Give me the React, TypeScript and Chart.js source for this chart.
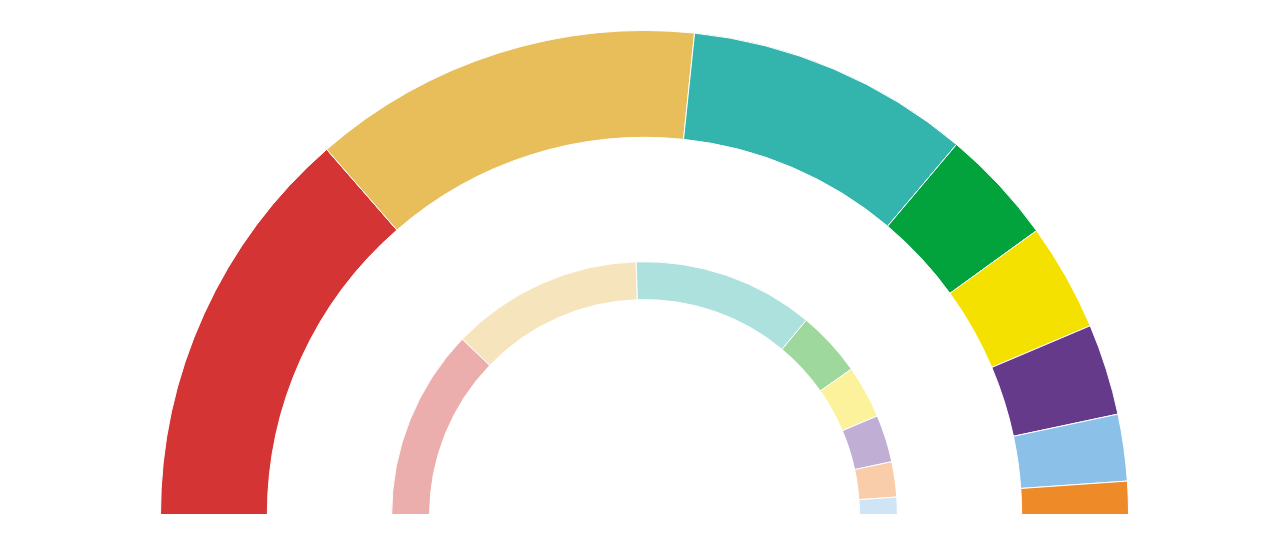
import React, { useEffect, useRef } from "react";
import { Chart, registerables } from "chart.js";

Chart.register(...registerables);

const partyLabels = ["A", "B", "C", "D", "E", "F", "G", "H"];
const outerValues = [27.2, 26.1, 19.0, 7.75, 7.2, 6.1, 4.45, 2.2];
const outerColors = ["#d43434", "#e8be5a", "#33b4ad", "#02a23d", "#f5e100", "#663a8b", "#8bc0e9", "#ef8a29"];
const innerValues = [24.4, 24.55, 23.15, 8.4, 6.75, 6.05, 4.5, 2.2];
const innerColors = ["#ecaeac", "#f6e4bd", "#ade1dd", "#9ed89c", "#fbf29b", "#c1aed4", "#f9cdaa", "#cfe5f6"];

export default function App() {
  const ref = useRef<HTMLCanvasElement | null>(null);
  useEffect(() => {
    if (!ref.current) return;
    const chart = new Chart(ref.current, {
      type: "doughnut",
      data: {
        labels: partyLabels,
        datasets: [
          {
            data: outerValues,
            backgroundColor: outerColors,
            borderColor: "#ffffff",
            borderWidth: 1,
            weight: 107,
          },
          {
            data: [1],
            backgroundColor: ["rgba(0,0,0,0)"],
            borderWidth: 0,
            weight: 124.5,
          },
          {
            data: innerValues,
            backgroundColor: innerColors,
            borderColor: "#ffffff",
            borderWidth: 1,
            weight: 38,
          },
        ],
      },
      options: {
        animation: false,
        responsive: true,
        maintainAspectRatio: false,
        rotation: -90,
        circumference: 180,
        cutout: "44.4%",
        events: [],
        layout: { padding: { top: 22, bottom: 33, left: 9, right: 0 } },
        plugins: {
          legend: { display: false },
          tooltip: { enabled: false },
          title: { display: false },
        },
      },
    });
    return () => chart.destroy();
  }, []);
  return (
    <div style={{ position: "relative", width: "100%", height: 540 }}>
      <canvas ref={ref} />
    </div>
  );
}
